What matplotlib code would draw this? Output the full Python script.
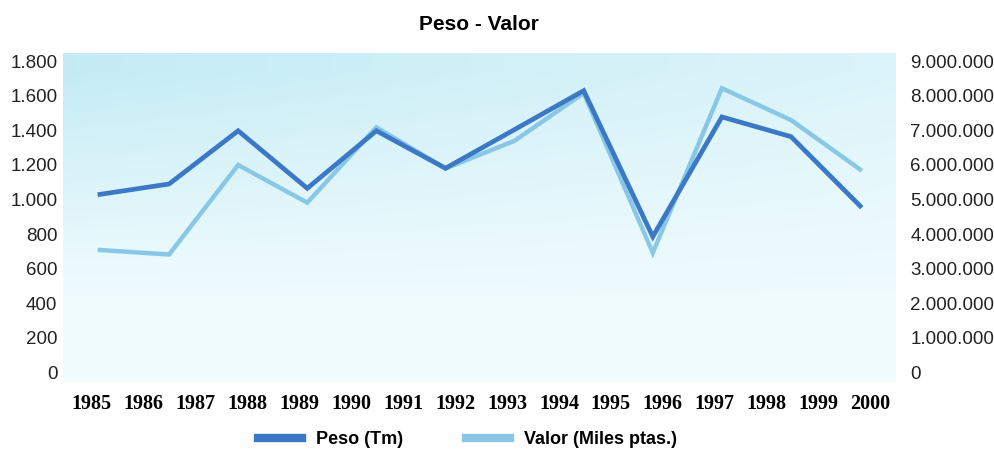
import numpy as np
import matplotlib.pyplot as plt
from matplotlib.ticker import FuncFormatter
from matplotlib.lines import Line2D

years = [str(y) for y in range(1985, 2001)]
peso = [1030, 1090, 1398, 1065, 1398, 1181, 1405, 1630, 785, 1478, 1364, 963]
valor = [3540000, 3410000, 6000000, 4910000, 7090000, 5900000, 6700000,
         8080000, 3460000, 8220000, 7300000, 5870000]

dark = '#3b78c6'
light = '#88c8e6'

fig = plt.figure(figsize=(9.95, 4.53), dpi=100)
ax2 = fig.add_axes([0.0633, 0.1574, 0.8362, 0.7256])
ax = ax2.twinx()
ax.set_zorder(ax2.get_zorder() + 1)
ax.patch.set_visible(False)

# background of the plot area: deeper cyan at the top left, fading out
hh, ww = np.mgrid[0:1:200j, 0:1:300j]
w = np.clip((hh - 0.25) / 0.7, 0, 1) ** 1.1 * (1 - 0.55 * ww)
pale = np.array([0.94, 0.985, 0.995])
deep = np.array([0.77, 0.925, 0.96])
img = pale + w[..., None] * (deep - pale)
ax2.imshow(img, origin='lower', extent=[0, 1, 0, 1],
           transform=ax2.transAxes, aspect='auto', zorder=0, interpolation='bilinear')

x = np.arange(len(peso))
ax2.plot(x, valor, color=light, lw=3.2, solid_joinstyle='miter', zorder=2)
ax.plot(x, peso, color=dark, lw=3.4, solid_joinstyle='miter', zorder=3)

ax.set_xlim(-0.535, 11.505)
ax.set_ylim(-54, 1848)
ax2.set_ylim(-54 * 5000, 1848 * 5000)

# the year labels do not sit on the data points in the original
ax2.set_xticks(np.linspace(-0.12, 11.15, len(years)))
ax2.set_xticklabels(years, family='Liberation Serif', fontweight='bold', fontsize=14.5)

ax.yaxis.tick_left()
ax2.yaxis.tick_right()
ax.set_yticks(range(0, 1801, 200))
ax2.set_yticks(range(0, 9000001, 1000000))
fmt = FuncFormatter(lambda v, _: f"{int(v):,}".replace(",", "."))
ax.yaxis.set_major_formatter(fmt)
ax2.yaxis.set_major_formatter(fmt)

for a in (ax, ax2):
    for s in a.spines.values():
        s.set_visible(False)
ax.tick_params(axis='y', length=0, pad=4, labelsize=13.5, labelcolor='#222222')
ax2.tick_params(axis='y', length=0, pad=11, labelsize=13.5, labelcolor='#222222')
ax2.tick_params(axis='x', length=0, pad=9)
for lab in ax.get_yticklabels() + ax2.get_yticklabels():
    lab.set_family('Liberation Sans')

fig.text(0.4815, 0.945, 'Peso - Valor', ha='center', va='center',
         family='Liberation Sans', fontweight='bold', fontsize=15)

handles = [Line2D([], [], color=dark, lw=6), Line2D([], [], color=light, lw=6)]
fig.legend(handles, ['Peso (Tm)', 'Valor (Miles ptas.)'], loc='center',
           bbox_to_anchor=(0.47, 0.03), ncol=2, frameon=False, handlelength=2.4,
           columnspacing=3.5, prop={'family': 'Liberation Sans', 'weight': 'bold', 'size': 13})

fig.savefig('out.png', dpi=100)
